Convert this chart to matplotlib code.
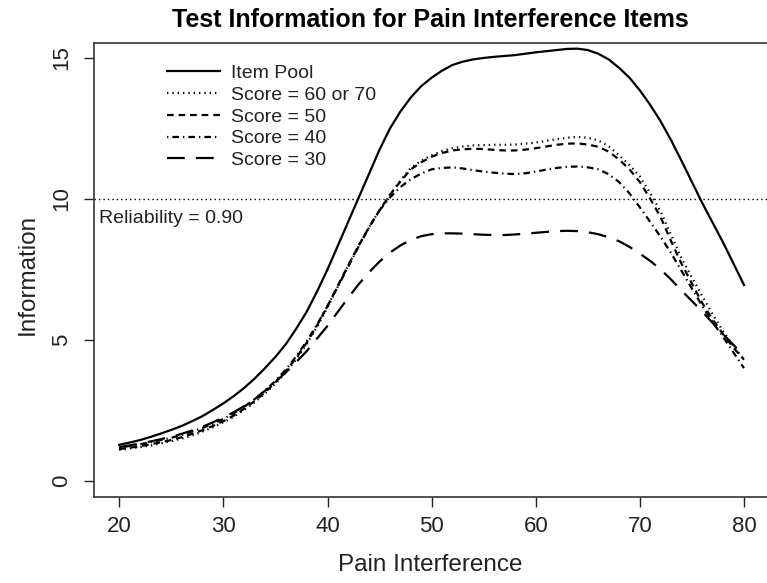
import matplotlib.pyplot as plt

plt.rcParams['font.family'] = ['Liberation Sans', 'DejaVu Sans']

# pain interference scores (x) and test information for each curve
theta = list(range(20, 81))

item_pool = [1.28, 1.36, 1.45, 1.56, 1.68, 1.81, 1.95, 2.12, 2.3, 2.52,
             2.75, 3.01, 3.3, 3.63, 4.0, 4.4, 4.85, 5.4, 6.0, 6.72,
             7.5, 8.35, 9.2, 10.05, 10.9, 11.75, 12.5, 13.1, 13.6, 14.0,
             14.3, 14.55, 14.75, 14.87, 14.95, 15.0, 15.04, 15.07, 15.1, 15.15,
             15.2, 15.24, 15.28, 15.32, 15.33, 15.28, 15.15, 14.95, 14.65, 14.3,
             13.85, 13.33, 12.75, 12.08, 11.35, 10.6, 9.85, 9.15, 8.45, 7.7,
             6.95]

score_60_70 = [1.10, 1.15, 1.2, 1.26, 1.33, 1.41, 1.5, 1.61, 1.75, 1.9,
               2.08, 2.28, 2.52, 2.79, 3.1, 3.45, 3.85, 4.32, 4.85, 5.47,
               6.15, 6.9, 7.65, 8.35, 9.0, 9.6, 10.15, 10.65, 11.1, 11.35,
               11.55, 11.7, 11.8, 11.86, 11.9, 11.91, 11.92, 11.92, 11.93, 11.96,
               12.0, 12.06, 12.12, 12.17, 12.2, 12.17, 12.08, 11.87, 11.55, 11.2,
               10.8, 10.2, 9.55, 8.72, 7.9, 7.22, 6.55, 5.9, 5.3, 4.78,
               4.3]

score_50 = [1.13, 1.18, 1.23, 1.3, 1.37, 1.45, 1.55, 1.67, 1.8, 1.95,
            2.12, 2.32, 2.56, 2.83, 3.14, 3.5, 3.9, 4.37, 4.9, 5.52,
            6.2, 6.93, 7.65, 8.35, 9.0, 9.6, 10.15, 10.62, 11.05, 11.3,
            11.5, 11.63, 11.72, 11.76, 11.78, 11.77, 11.74, 11.72, 11.72, 11.75,
            11.8, 11.86, 11.92, 11.96, 11.97, 11.93, 11.85, 11.68, 11.4, 11.05,
            10.6, 10.0, 9.35, 8.5, 7.7, 7.0, 6.3, 5.72, 5.2, 4.72,
            4.3]

score_40 = [1.18, 1.24, 1.3, 1.37, 1.45, 1.53, 1.63, 1.75, 1.88, 2.03,
            2.2, 2.4, 2.63, 2.9, 3.2, 3.55, 3.95, 4.42, 4.95, 5.55,
            6.2, 6.9, 7.6, 8.32, 9.0, 9.6, 10.05, 10.42, 10.7, 10.9,
            11.05, 11.1, 11.12, 11.08, 11.02, 10.97, 10.93, 10.9, 10.88, 10.91,
            10.97, 11.04, 11.1, 11.14, 11.15, 11.12, 11.05, 10.88, 10.6, 10.2,
            9.7, 9.18, 8.65, 8.08, 7.45, 6.82, 6.2, 5.62, 5.1, 4.55,
            4.0]

score_30 = [1.2, 1.26, 1.33, 1.4, 1.48, 1.57, 1.67, 1.79, 1.92, 2.08,
            2.25, 2.44, 2.65, 2.9, 3.2, 3.52, 3.85, 4.22, 4.6, 5.05,
            5.5, 6.0, 6.5, 6.98, 7.4, 7.78, 8.1, 8.35, 8.55, 8.68,
            8.75, 8.78, 8.78, 8.77, 8.75, 8.73, 8.72, 8.72, 8.74, 8.77,
            8.8, 8.83, 8.86, 8.87, 8.86, 8.82, 8.75, 8.64, 8.5, 8.3,
            8.06, 7.8, 7.5, 7.14, 6.75, 6.38, 6.0, 5.6, 5.2, 4.82,
            4.45]

labels = ['Item Pool', 'Score = 60 or 70', 'Score = 50', 'Score = 40', 'Score = 30']
reliability_info = 10

fig = plt.figure(figsize=(7.67, 5.83), dpi=100)
ax = fig.add_axes([0.1229, 0.148, 0.8797, 0.7787])

lw = 1.6
ax.plot(theta, item_pool, color='black', lw=lw, label=labels[0])
ax.plot(theta, score_60_70, color='black', lw=lw, ls=(0, (0.6, 1.8)), label=labels[1])
ax.plot(theta, score_50, color='black', lw=lw, ls=(0, (3, 2.2)), label=labels[2])
ax.plot(theta, score_40, color='black', lw=lw, ls=(0, (0.6, 1.8, 3, 1.8)), label=labels[3])
ax.plot(theta, score_30, color='black', lw=lw, ls=(0, (8, 5)), label=labels[4])

ax.axhline(reliability_info, color='black', lw=1, ls=(0, (1, 2.2)))
ax.text(18.1, 9.3, 'Reliability = 0.90', fontsize=14, va='center', ha='left',
        color='#222222')

ax.set_xlim(17.6, 82.4)
ax.set_ylim(-0.56, 15.54)
ax.set_xticks([20, 30, 40, 50, 60, 70, 80])
ax.set_yticks([0, 5, 10, 15])
ax.tick_params(axis='both', length=7, width=1, labelsize=16, colors='#222222')
ax.tick_params(axis='x', pad=7)
ax.tick_params(axis='y', pad=9)
for t in ax.get_yticklabels():
    t.set_rotation(90)
    t.set_va('center')
for s in ax.spines.values():
    s.set_color('#333333')
    s.set_linewidth(1.2)

ax.legend(loc='upper left', bbox_to_anchor=(0.0966, 0.970), frameon=False,
          fontsize=14, handlelength=2.7, handletextpad=0.57, labelspacing=0.22,
          borderaxespad=0, labelcolor='#222222')

fig.text(0.561, 0.965, 'Test Information for Pain Interference Items',
         fontsize=18, fontweight='bold', ha='center', va='center')
fig.text(0.561, 0.031, 'Pain Interference', fontsize=17.5, ha='center', va='center',
         color='#222222')
fig.text(0.0365, 0.53, 'Information', fontsize=17.5, ha='center', va='center',
         rotation=90, color='#222222')

fig.savefig('out.png', dpi=100)
